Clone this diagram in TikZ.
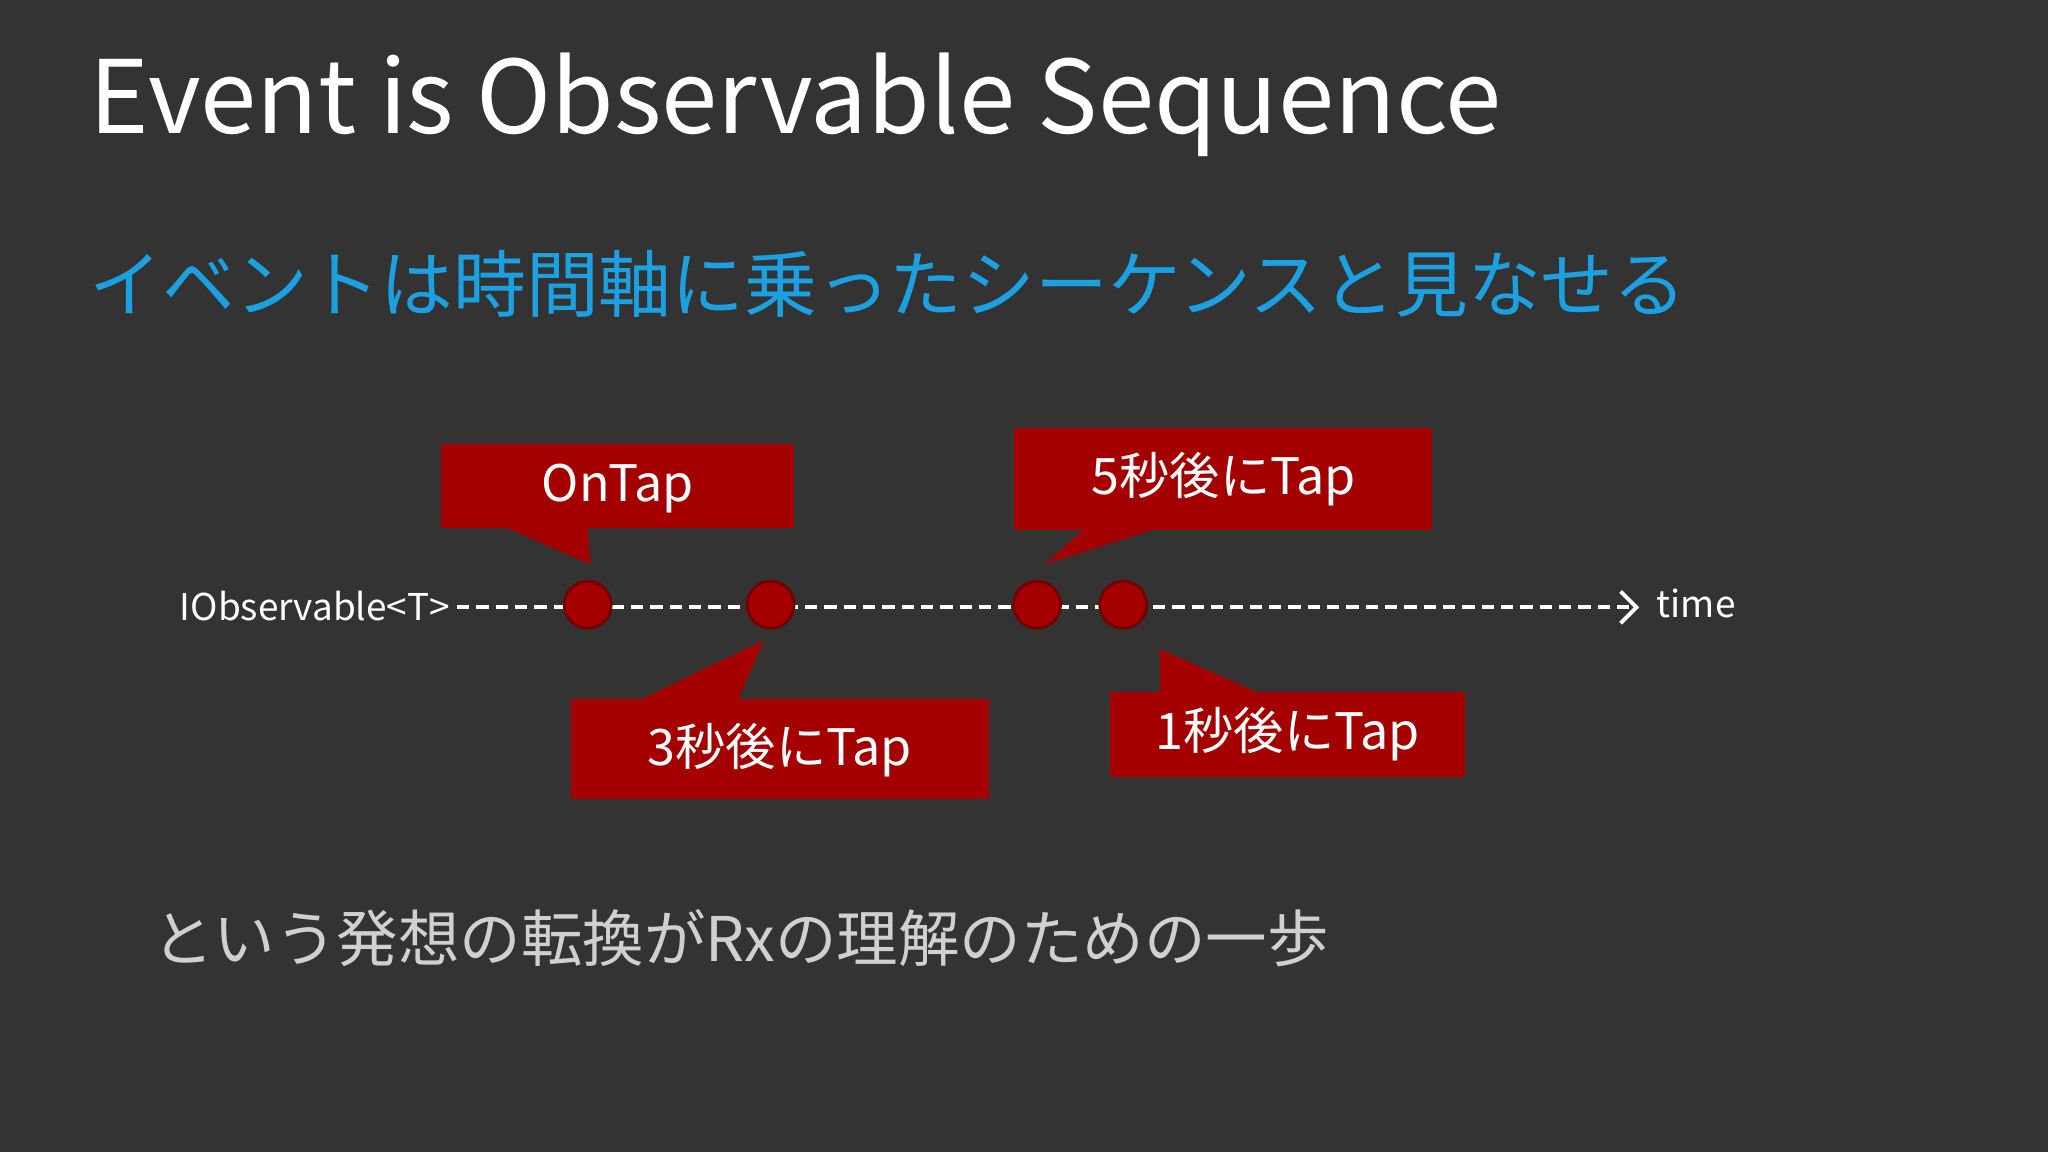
\documentclass[tikz,border=0pt]{standalone}
\usepackage{fontspec}
\setmainfont{Noto Sans CJK JP}
\usetikzlibrary{arrows.meta}
\definecolor{bg}{HTML}{333333}
\definecolor{cred}{HTML}{A50000}
\definecolor{cblue}{HTML}{1BA1E2}
\definecolor{gtxt}{HTML}{D0D0D0}
\tikzset{
 callout/.style={fill=cred,draw=none},
 ctext/.style={text=white,font=\fontsize{14.3}{16}\selectfont,inner sep=0pt},
 dot/.style={circle,fill=cred,draw=cred!70!black,line width=0.8pt,minimum size=0.47cm,inner sep=0pt},
}
\begin{document}
\begin{tikzpicture}[x=0.01306cm,y=-0.01306cm]
\fill[bg] (0,0) rectangle (1568,882);
\useasboundingbox (0,0) rectangle (1568,882);
\node[anchor=west,text=white,font=\fontsize{28.8}{34}\selectfont,inner sep=0pt] (title) at (68,80) {Event is Observable Sequence};
\node[anchor=west,text=cblue,font=\fontsize{20.7}{24}\selectfont,inner sep=0pt] (sub) at (68,217) {イベントは時間軸に乗ったシーケンスと見なせる};
\node[anchor=west,text=gtxt,font=\fontsize{17.5}{20}\selectfont,inner sep=0pt] (foot) at (116,718) {という発想の転換がRxの理解のための一歩};
% axis
\node[anchor=east,text=white,font=\fontsize{10.5}{12}\selectfont,inner sep=0pt] (iobs) at (345,464) {IObservable<T>};
\node[anchor=west,text=white,font=\fontsize{10.5}{12}\selectfont,inner sep=0pt] (time) at (1268,462) {time};
\coordinate (s) at (350,465);
\coordinate (e) at (1255,465);
\draw[white,line width=1.1pt,dash pattern=on 3.5pt off 2pt,-{Straight Barb[length=4.5pt]}] (s) -- (e);
\node[dot] (d1) at (450,463) {};
\node[dot] (d2) at (590,463) {};
\node[dot] (d3) at (794,463) {};
\node[dot] (d4) at (860,463) {};
% callouts
\fill[callout] (338,340) rectangle (608,404);
\fill[callout] (385,403) -- (452,432) -- (450,403) -- cycle;
\node[ctext] (t1) at (473,374) {OnTap};
\fill[callout] (437,535) rectangle (757,612);
\fill[callout] (490,536) -- (585,490) -- (565,536) -- cycle;
\node[ctext] (t2) at (597,574) {3秒後にTap};
\fill[callout] (776,328) rectangle (1096,406);
\fill[callout] (830,405) -- (800,432) -- (885,405) -- cycle;
\node[ctext] (t3) at (937,367) {5秒後にTap};
\fill[callout] (850,530) rectangle (1122,595);
\fill[callout] (888,531) -- (888,497) -- (965,531) -- cycle;
\node[ctext] (t4) at (986,562) {1秒後にTap};
\end{tikzpicture}
\end{document}
